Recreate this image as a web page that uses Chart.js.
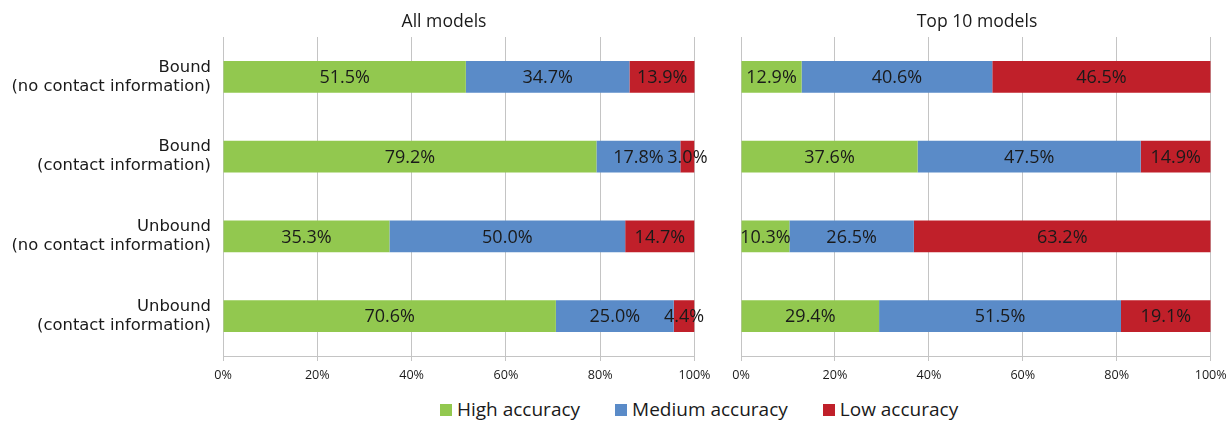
<!DOCTYPE html>
<html>
<head>
<meta charset="utf-8">
<script src="https://cdn.jsdelivr.net/npm/chart.js@4.4.0/dist/chart.umd.min.js"></script>
<style>
  body { margin: 0; background: #fff; width: 1229px; height: 421px; overflow: hidden; position: relative; }
  #boxAll { position: absolute; left: 0; top: 0; width: 715px; height: 383px; }
  #boxTop { position: absolute; left: 715px; top: 0; width: 514px; height: 383px; }
  #legend { position: absolute; left: 440px; top: 400px; white-space: nowrap; font-family: "Open Sans", sans-serif; font-size: 19px; line-height: 19px; color: #1a1a1a; }
  #legend span.item { margin-right: 35px; }
  #legend span.sw { display: inline-block; width: 12px; height: 12px; margin-right: 5px; }
</style>
</head>
<body>
<div id="boxAll"><canvas id="chartAll"></canvas></div>
<div id="boxTop"><canvas id="chartTop"></canvas></div>
<div id="legend"></div>
<script>
const categories = [
  ["Bound", "(no contact information)"],
  ["Bound", "(contact information)"],
  ["Unbound", "(no contact information)"],
  ["Unbound", "(contact information)"]
];
const seriesNames = ["High accuracy", "Medium accuracy", "Low accuracy"];
const seriesColors = ["#92C84F", "#5A8BC8", "#C0202A"];

// All models
const allHigh = [51.5, 79.2, 35.3, 70.6];
const allMedium = [34.7, 17.8, 50.0, 25.0];
const allLow = [13.9, 3.0, 14.7, 4.4];

// Top 10 models
const topHigh = [12.9, 37.6, 10.3, 29.4];
const topMedium = [40.6, 47.5, 26.5, 51.5];
const topLow = [46.5, 14.9, 63.2, 19.1];

const xTicks = [0, 20, 40, 60, 80, 100];

// value in the middle of each segment + panel title
const segmentLabels = {
  id: "segmentLabels",
  afterDatasetsDraw(chart, args, opts) {
    const ctx = chart.ctx;
    ctx.save();
    ctx.font = "18px 'Open Sans', sans-serif";
    ctx.fillStyle = "#1a1a1a";
    ctx.textAlign = "center";
    ctx.textBaseline = "middle";
    chart.data.datasets.forEach((ds, i) => {
      chart.getDatasetMeta(i).data.forEach((bar, j) => {
        const x = (bar.x + bar.base) / 2;
        ctx.fillText(ds.data[j].toFixed(1) + "%", x, bar.y + 1);
      });
    });
    // title
    ctx.font = "17.6px 'Open Sans', sans-serif";
    ctx.textBaseline = "alphabetic";
    ctx.fillText(opts.title, opts.titleX, 27);
    ctx.restore();
  }
};

function makeChart(id, title, titleX, high, medium, low, showCats) {
  const data = [high, medium, low];
  return new Chart(document.getElementById(id), {
    type: "bar",
    data: {
      labels: categories,
      datasets: seriesNames.map((n, i) => ({
        label: n,
        data: data[i],
        backgroundColor: seriesColors[i],
        barPercentage: 0.4,
        categoryPercentage: 1
      }))
    },
    options: {
      indexAxis: "y",
      responsive: true,
      maintainAspectRatio: false,
      animation: false,
      layout: { padding: { left: showCats ? 0 : 26, right: showCats ? 20.5 : 18.3, top: 37, bottom: 0 } },
      plugins: {
        legend: { display: false },
        tooltip: { enabled: false },
        segmentLabels: { title: title, titleX: titleX }
      },
      scales: {
        x: {
          stacked: true,
          min: 0,
          max: 100,
          afterBuildTicks: (axis) => { axis.ticks = xTicks.map(v => ({ value: v })); },
          afterFit: (axis) => {
            axis.height = 27;
            // let the layout padding decide the side room
            axis.paddingLeft = 0;
            axis.paddingRight = 0;
          },
          ticks: {
            callback: (v) => v + "%",
            color: "#1a1a1a",
            font: { family: "'Open Sans', sans-serif", size: 12.6 },
            padding: 7,
            maxRotation: 0
          },
          grid: { color: "#c4c4c4", lineWidth: 1, tickLength: 5 },
          border: { color: "#c4c4c4" }
        },
        y: {
          stacked: true,
          display: showCats,
          afterFit: (axis) => { if (showCats) axis.width = 223; },
          ticks: {
            color: "#1a1a1a",
            font: { family: "'DejaVu Sans', Verdana, sans-serif", size: 16.4, lineHeight: 1.17 },
            padding: 4
          },
          grid: { display: false },
          border: { display: false }
        }
      }
    },
    plugins: [segmentLabels]
  });
}

makeChart("chartAll", "All models", 444, allHigh, allMedium, allLow, true);
makeChart("chartTop", "Top 10 models", 262, topHigh, topMedium, topLow, false);

const legend = document.getElementById("legend");
seriesNames.forEach((n, i) => {
  const item = document.createElement("span");
  item.className = "item";
  const sw = document.createElement("span");
  sw.className = "sw";
  sw.style.background = seriesColors[i];
  item.appendChild(sw);
  item.appendChild(document.createTextNode(n));
  legend.appendChild(item);
});
</script>
</body>
</html>
